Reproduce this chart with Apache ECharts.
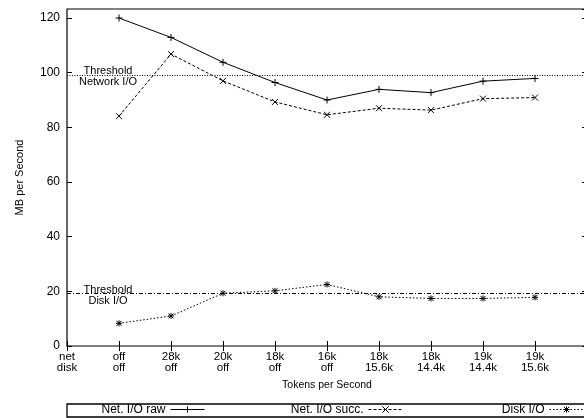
<!DOCTYPE html>
<html>
<head>
<meta charset="utf-8">
<script src="https://cdn.jsdelivr.net/npm/echarts@6/dist/echarts.min.js"></script>
<style>
  html, body { margin: 0; padding: 0; background: #fff; }
  #chart { width: 584px; height: 418px; }
</style>
</head>
<body>
<div id="chart"></div>
<script>
// ---- data ----
const netSetting  = ['net', 'off', '28k', '20k', '18k', '16k', '18k', '18k', '19k', '19k', ''];
const diskSetting = ['disk', 'off', 'off', 'off', 'off', 'off', '15.6k', '14.4k', '14.4k', '15.6k', ''];
const netRaw  = [null, 120.0, 112.9, 103.8, 96.4, 90.0, 93.9, 92.7, 96.9, 97.9];
const netSucc = [null, 84.1, 106.8, 97.0, 89.3, 84.6, 87.0, 86.3, 90.5, 90.9];
const diskIO  = [null, 8.3, 11.0, 19.3, 20.2, 22.5, 18.0, 17.4, 17.4, 17.8];
const netThreshold = 99.0;
const diskThreshold = 19.3;
const yTicks = { min: 0, max: 123.3, interval: 20 };

// ---- chart ----
const FONT = '"Liberation Sans", Arial, Helvetica, sans-serif';
const categories = netSetting.map((n, i) => n ? n + '\n' + diskSetting[i] : '');
const PLUS = 'path://M0,-5L0,5M-5,0L5,0';
const CROSS = 'path://M-5,-5L5,5M-5,5L5,-5';
const STAR = 'path://M-5,-5L5,5M-5,5L5,-5M0,-6L0,6M-6,0L6,0';

const chart = echarts.init(document.getElementById('chart'), null, { renderer: 'canvas' });

const baseSeries = (name, data, symbol, dash, size) => ({
  name, type: 'line', data, symbol, symbolSize: size, showSymbol: true,
  xAxisIndex: 0, yAxisIndex: 0,
  lineStyle: { color: '#000', width: 1, type: dash },
  itemStyle: { color: '#000', borderColor: '#000', borderWidth: 1 },
  emphasis: { disabled: true }, silent: true, animation: false
});

const thresholdLabel = (text, value, offset) => ({
  symbol: 'circle', symbolSize: 1, silent: true,
  itemStyle: { color: 'rgba(0,0,0,0)' },
  data: [{ coord: [1, value], label: {
    show: true, position: 'inside', formatter: text, color: '#000',
    fontFamily: FONT, fontSize: 11, lineHeight: 11, align: 'center', offset
  } }]
});

const s1 = baseSeries('Net. I/O raw', netRaw, PLUS, 'solid', 7);
s1.markLine = {
  silent: true, symbol: ['none', 'none'], label: { show: false }, animation: false,
  lineStyle: { color: '#000', width: 1, type: [1, 1.5] },
  data: [{ yAxis: netThreshold }]
};
s1.markPoint = thresholdLabel('Threshold\nNetwork I/O', netThreshold, [-11, 1]);

const s2 = baseSeries('Net. I/O succ.', netSucc, CROSS, [3, 2], 6);

const s3 = baseSeries('Disk I/O', diskIO, STAR, [1.5, 2], 6);
s3.markLine = {
  silent: true, symbol: ['none', 'none'], label: { show: false }, animation: false,
  lineStyle: { color: '#000', width: 1, type: [4, 2, 1, 2] },
  data: [{ yAxis: diskThreshold }]
};
s3.markPoint = thresholdLabel('Threshold\nDisk I/O', diskThreshold, [-11, 2]);

const legendBase = {
  align: 'right', itemWidth: 34, itemHeight: 8, padding: 0, top: 403,
  selectedMode: false, orient: 'horizontal',
  lineStyle: { width: 1 },
  itemStyle: { borderWidth: 1 },
  textStyle: { fontFamily: FONT, fontSize: 12, color: '#000', lineHeight: 13 }
};

chart.setOption({
  animation: false,
  backgroundColor: '#fff',
  textStyle: { fontFamily: FONT },
  grid: {
    left: 67, width: 520, top: 9, bottom: 72,
    outerBoundsMode: 'none', containLabel: false,
    show: true, borderColor: '#000', borderWidth: 1.2, backgroundColor: 'transparent'
  },
  legend: [
    Object.assign({}, legendBase, { data: ['Net. I/O raw'], right: 379 }),
    Object.assign({}, legendBase, { data: ['Net. I/O succ.'], right: 181 }),
    Object.assign({}, legendBase, { data: ['Disk I/O'], right: 0 })
  ],
  xAxis: [
    {
      type: 'category', data: categories, boundaryGap: false, position: 'bottom',
      name: 'Tokens per Second', nameLocation: 'middle', nameGap: 34,
      nameTextStyle: { fontFamily: FONT, fontSize: 10.5, color: '#000' },
      axisLine: { show: false },
      axisTick: { show: true, inside: true, length: 5, interval: 0, lineStyle: { color: '#000' } },
      axisLabel: { interval: 0, margin: 5, fontFamily: FONT, fontSize: 11.5, color: '#000', lineHeight: 11.5 },
      splitLine: { show: false }
    },
    {
      type: 'category', data: categories, boundaryGap: false, position: 'top',
      axisLine: { show: false },
      axisTick: { show: true, inside: true, length: 5, interval: 0, lineStyle: { color: '#000' } },
      axisLabel: { show: false }, splitLine: { show: false }
    }
  ],
  yAxis: [
    {
      type: 'value', min: yTicks.min, max: yTicks.max, interval: yTicks.interval, position: 'left',
      name: 'MB per Second', nameLocation: 'middle', nameRotate: 90, nameGap: 42,
      nameTextStyle: { fontFamily: FONT, fontSize: 11, color: '#000' },
      axisLine: { show: false },
      axisTick: { show: true, inside: true, length: 5, lineStyle: { color: '#000' } },
      axisLabel: { margin: 7, fontFamily: FONT, fontSize: 12, color: '#000', showMaxLabel: false },
      splitLine: { show: false }
    },
    {
      type: 'value', min: yTicks.min, max: yTicks.max, interval: yTicks.interval, position: 'right',
      axisLine: { show: false },
      axisTick: { show: true, inside: true, length: 5, lineStyle: { color: '#000' } },
      axisLabel: { show: false }, splitLine: { show: false }
    }
  ],
  graphic: [{
    type: 'rect', silent: true, z: -1,
    shape: { x: 67, y: 404, width: 540, height: 13 },
    style: { fill: 'none', stroke: '#000', lineWidth: 1.3 }
  }],
  series: [s1, s2, s3]
});
</script>
</body>
</html>
